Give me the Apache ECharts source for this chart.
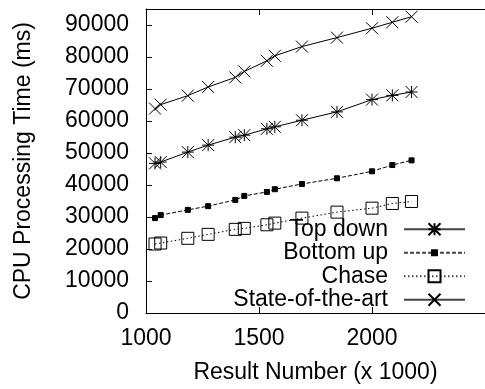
<!DOCTYPE html>
<html>
<head>
<meta charset="utf-8">
<script src="https://cdn.jsdelivr.net/npm/echarts@6/dist/echarts.min.js"></script>
<style>
  html, body { margin: 0; padding: 0; background: #fff; }
  #chart { width: 485px; height: 389px; }
</style>
</head>
<body>
<div id="chart"></div>
<script>
// Result number (x 1000) at which each measurement was taken
const resultNumbers = [1040, 1065, 1185, 1275, 1395, 1435, 1535, 1570, 1690, 1845, 2000, 2090, 2175];

// CPU processing time (ms) per method
const topDown       = [46750, 47170, 50280, 52460, 54950, 55570, 57560, 58180, 60240, 62850, 66680, 68010, 69070];
const bottomUp      = [29650, 30590, 32230, 33390, 35350, 36590, 37830, 38680, 40320, 42100, 44280, 46240, 47700];
const chase         = [21560, 21870, 23340, 24580, 26140, 26450, 27570, 28090, 29650, 31520, 32760, 34230, 34850];
const stateOfTheArt = [63870, 65120, 67920, 70630, 73620, 75480, 78810, 80370, 83260, 86060, 88990, 90850, 92590];

const seriesNames = ['Top down', 'Bottom up', 'Chase', 'State-of-the-art'];

const FONT = "'Liberation Sans', Arial, Helvetica, sans-serif";
const INK = '#000';

// Point glyphs, all in a common 12x12 frame so relative sizes stay consistent
const SYM_ASTERISK = 'path://M0,0L12,12M12,0L0,12M6,0L6,12M0,6L12,6';
const SYM_CROSS    = 'path://M0,0L12,12M12,0L0,12';
const SYM_BOX      = 'path://M0,0L12,0L12,12L0,12Z';
const SYM_DOT      = 'path://M0,0M12,12M3.5,3.5L8.5,3.5L8.5,8.5L3.5,8.5Z';

function pairs(ys) {
  return resultNumbers.map((x, i) => [x, ys[i]]);
}

function plain(v) {
  return String(v);
}

function makeSeries(name, ys, symbol, lineType, filled) {
  return {
    name: name,
    type: 'line',
    data: pairs(ys),
    symbol: symbol,
    symbolSize: 12,
    showSymbol: true,
    animation: false,
    color: INK,
    lineStyle: { color: INK, width: 1, type: lineType },
    itemStyle: {
      color: filled ? INK : 'rgba(0,0,0,0)',
      borderColor: INK,
      borderWidth: 1
    },
    emphasis: { disabled: true },
    z: 3
  };
}

const chart = echarts.init(document.getElementById('chart'), null, { renderer: 'canvas' });

chart.setOption({
  animation: false,
  backgroundColor: '#fff',
  textStyle: { fontFamily: FONT, color: INK },
  grid: { left: 146, top: 9, right: -10, bottom: 75, containLabel: false },
  legend: {
    orient: 'vertical',
    align: 'right',
    right: 19,
    top: 217.7,
    padding: 0,
    itemGap: 0.5,
    itemWidth: 61,
    itemHeight: 15,
    selectedMode: false,
    data: seriesNames,
    lineStyle: { color: '#444' },
    textStyle: {
      fontFamily: FONT,
      fontSize: 23,
      color: INK,
      lineHeight: 22,
      padding: [0, 11, 0, 0]
    }
  },
  xAxis: [
    {
      type: 'value',
      position: 'bottom',
      min: 1000,
      max: 2500,
      interval: 500,
      name: 'Result Number (x 1000)',
      nameLocation: 'middle',
      nameGap: 48,
      nameTextStyle: { fontFamily: FONT, fontSize: 23, color: INK },
      axisLine: { show: true, lineStyle: { color: INK, width: 1 } },
      axisTick: { show: true, inside: true, length: 6, lineStyle: { color: INK } },
      axisLabel: { fontFamily: FONT, fontSize: 23, color: INK, margin: 14, showMaxLabel: false, formatter: plain },
      splitLine: { show: false }
    },
    {
      type: 'value',
      position: 'top',
      min: 1000,
      max: 2500,
      interval: 500,
      axisLine: { show: true, lineStyle: { color: INK, width: 1 } },
      axisTick: { show: true, inside: true, length: 6, lineStyle: { color: INK } },
      axisLabel: { show: false },
      splitLine: { show: false }
    }
  ],
  yAxis: {
    type: 'value',
    min: 0,
    max: 95000,
    interval: 10000,
    name: 'CPU Processing Time (ms)',
    nameLocation: 'middle',
    nameRotate: 90,
    nameGap: 111,
    nameTextStyle: { fontFamily: FONT, fontSize: 23, color: INK },
    axisLine: { show: true, lineStyle: { color: INK, width: 1 } },
    axisTick: { show: true, inside: true, length: 6, lineStyle: { color: INK } },
    axisLabel: { fontFamily: FONT, fontSize: 23, color: INK, margin: 17, showMaxLabel: false, formatter: plain },
    splitLine: { show: false }
  },
  series: [
    makeSeries(seriesNames[0], topDown, SYM_ASTERISK, 'solid', false),
    makeSeries(seriesNames[1], bottomUp, SYM_DOT, [4, 2], true),
    makeSeries(seriesNames[2], chase, SYM_BOX, [1.5, 2.5], false),
    makeSeries(seriesNames[3], stateOfTheArt, SYM_CROSS, 'solid', false)
  ]
});
</script>
</body>
</html>
